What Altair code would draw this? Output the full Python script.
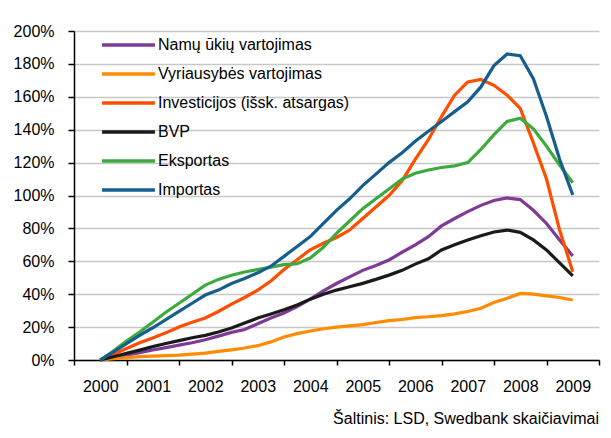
import altair as alt
import pandas as pd

quarters = [2000 + i / 4 for i in range(37)]

series_names = [
    "Namų ūkių vartojimas",
    "Vyriausybės vartojimas",
    "Investicijos (išsk. atsargas)",
    "BVP",
    "Eksportas",
    "Importas",
]
series_colors = ["#7F3A96", "#FF8C00", "#FF4E00", "#1A1A1A", "#3DAA3D", "#165E8C"]

namu = [0, 1.5, 3, 4.5, 6.1, 7.5, 9, 10.5, 12.3, 14.5, 16.8, 18.5, 22, 25.5, 28.5, 32.5,
        37, 42, 46.5, 50.5, 54.5, 57.5, 60.8, 65.5, 70, 75, 81.5, 86, 90.2, 94, 97, 98.5,
        97.5, 91, 83, 73, 63.2]
vyriausybes = [0, 0.8, 1.5, 2, 2.3, 2.6, 3, 3.6, 4.2, 5.2, 6.2, 7.3, 8.7, 11, 14, 16,
               17.6, 19, 20, 20.7, 21.5, 22.8, 23.9, 24.6, 25.8, 26.3, 27, 28, 29.5, 31.5, 35, 37.5,
               40.5, 40, 39, 38, 36.5]
investicijos = [0, 3.5, 7, 10.5, 13.4, 16.5, 20, 23, 25.5, 29.5, 34, 38, 42.5, 48, 55, 61,
                67, 71, 74.5, 79, 86, 93, 100, 109, 122, 134, 148, 161, 169, 170.5, 167, 161,
                153, 132, 110, 79, 53.7]
bvp = [0, 2, 4, 6, 8.1, 10, 11.8, 13.5, 15, 17, 19.4, 22.5, 25.5, 28, 30.5, 33.5,
       37, 40, 42.5, 44.5, 46.6, 49, 51.6, 54.5, 58.3, 61.5, 66.9, 70, 73, 75.5, 77.8, 79,
       77.6, 73, 66.9, 59, 51.1]
eksportas = [0, 5.5, 11.5, 17, 23, 29, 34.5, 40, 45.5, 49, 51.5, 53.5, 55, 56.5, 58, 58.5,
             62, 68.5, 77, 84.5, 92, 98, 104, 110, 113.5, 115.5, 117, 118, 120, 128, 137, 145,
             147, 140.5, 130, 118.5, 107.8]
importas = [0, 5, 10, 15, 19.6, 24.5, 29.6, 34.5, 39.5, 42.5, 46.5, 49.5, 53, 57, 63, 69,
            75, 83, 91, 98, 106, 113, 120, 126, 133, 139, 145, 151, 157, 166, 179, 186,
            185, 171, 148, 122, 100.3]

y_ticks = list(range(0, 201, 20))
x_tick_edges = [1999.5 + i for i in range(11)]
source_text = "Šaltinis: LSD, Swedbank skaičiavimai"

all_values = [namu, vyriausybes, investicijos, bvp, eksportas, importas]
rows = []
for order, (name, vals) in enumerate(zip(series_names, all_values)):
    for t, v in zip(quarters, vals):
        rows.append({"t": t, "v": v, "series": name, "order": order})
df = pd.DataFrame(rows)

FONT = "Liberation Sans"
W, H = 525, 329
bin_px = W / 10

chart = alt.Chart(df).mark_line(strokeWidth=3.2).encode(
    x=alt.X(
        "t:Q",
        scale=alt.Scale(domain=[1999.5, 2009.5], nice=False, zero=False),
        axis=alt.Axis(
            values=x_tick_edges,
            labelExpr="datum.value < 2009 ? format(datum.value + 0.5, 'd') : ''",
            labelOffset=bin_px / 2,
            labelFlush=False,
            labelOverlap=False,
            grid=False,
            tickSize=5,
            tickWidth=1.5,
            tickColor="black",
            domainColor="black",
            domainWidth=1.5,
            labelPadding=13,
            labelFontSize=16,
            labelFont=FONT,
            labelColor="black",
            title=None,
        ),
    ),
    y=alt.Y(
        "v:Q",
        scale=alt.Scale(domain=[0, 200], nice=False),
        axis=alt.Axis(
            values=y_ticks,
            labelExpr="datum.value + '%'",
            tickSize=6,
            tickWidth=1.5,
            tickColor="black",
            domainColor="black",
            domainWidth=1.5,
            gridColor="#c8c8c8",
            gridWidth=1.5,
            labelPadding=14,
            labelFontSize=16,
            labelFont=FONT,
            labelColor="black",
            title=None,
        ),
    ),
    color=alt.Color(
        "series:N",
        scale=alt.Scale(domain=series_names, range=series_colors),
        legend=alt.Legend(
            title=None,
            orient="none",
            legendX=43.5,
            legendY=3,
            symbolType="M-2.94,0L2.94,0",
            symbolSize=324,
            symbolStrokeWidth=3.5,
            labelFontSize=16,
            labelFont=FONT,
            labelColor="black",
            labelOffset=18.5,
            labelLimit=400,
            rowPadding=10,
            padding=0,
        ),
    ),
    order="order:Q",
).properties(
    width=W,
    height=H,
    title=alt.Title(
        source_text,
        orient="bottom",
        anchor="end",
        align="right",
        frame="group",
        fontSize=16,
        fontWeight="normal",
        font=FONT,
        color="black",
        offset=17,
    ),
    autosize=alt.AutoSizeParams(type="none"),
    padding={"left": 66, "top": 23, "right": 4, "bottom": 70},
).configure_view(stroke=None)

chart.save("out.html", embed_options={"renderer": "svg", "actions": False})
